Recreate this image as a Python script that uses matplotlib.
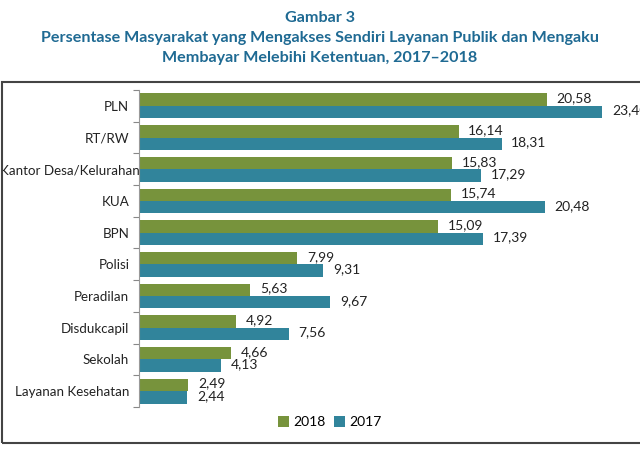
import matplotlib
matplotlib.use("Agg")
import matplotlib.pyplot as plt
from matplotlib.patches import Rectangle
from matplotlib.transforms import ScaledTranslation
import numpy as np

categories = ["PLN", "RT/RW", "Kantor Desa/Kelurahan", "KUA", "BPN", "Polisi",
              "Peradilan", "Disdukcapil", "Sekolah", "Layanan Kesehatan"]
v2018 = [20.58, 16.14, 15.83, 15.74, 15.09, 7.99, 5.63, 4.92, 4.66, 2.49]
v2017 = [23.40, 18.31, 17.29, 20.48, 17.39, 9.31, 9.67, 7.56, 4.13, 2.44]
series_names = ["2018", "2017"]

green = "#77933c"
teal = "#31849b"
title_color = "#1f6a93"

plt.rcParams['font.family'] = ['Lato', 'DejaVu Sans']

fig = plt.figure(figsize=(6.4, 4.53), dpi=100)
ax = fig.add_axes([139/640, 1-407/453, 1-139/640, (407-90)/453])

n = len(categories)
y = np.arange(n)
h = 0.39
ax.barh(y - h/2, v2018, height=h, color=green, label=series_names[0])
ax.barh(y + h/2, v2017, height=h, color=teal, label=series_names[1])

def fmt(v):
    return f"{v:.2f}".replace(".", ",")

for yi, a, b in zip(y, v2018, v2017):
    ax.annotate(fmt(a), (a, yi - h/2), xytext=(7, 1), textcoords="offset points",
                va="center", ha="left", fontsize=10, color="#222222", annotation_clip=False)
    ax.annotate(fmt(b), (b, yi + h/2), xytext=(7, 1), textcoords="offset points",
                va="center", ha="left", fontsize=10, color="#222222", annotation_clip=False)

ax.set_ylim(n - 0.5, -0.5)
ax.set_xlim(0, 25.3)
ax.set_yticks(y)
ax.set_yticklabels(categories, fontsize=9.6, color="#222222")
ax.tick_params(axis="y", which="major", length=0, pad=7)
ax.set_yticks(np.arange(-0.5, n, 1), minor=True)
ax.tick_params(axis="y", which="minor", length=4, color="#888888", width=0.8)
ax.set_xticks([])
for s in ["top", "right", "bottom"]:
    ax.spines[s].set_visible(False)
ax.spines["left"].set_color("#999999")
ax.spines["left"].set_linewidth(0.8)

# the long label overlaps the axis slightly in the reference
lbl = ax.get_yticklabels()[2]
lbl.set_transform(lbl.get_transform() + ScaledTranslation(10/100, 0, fig.dpi_scale_trans))

fig.legend(loc="center", bbox_to_anchor=(0.515, 1-422/453), ncol=2, frameon=False,
           fontsize=10, handlelength=0.8, handleheight=0.8, columnspacing=0.6,
           handletextpad=0.3)

fig.text(0.5, 1-18/453, "Gambar 3", ha="center", va="center", fontsize=11.6,
         fontweight="bold", color=title_color)
fig.text(0.5, 1-38/453, "Persentase Masyarakat yang Mengakses Sendiri Layanan Publik dan Mengaku",
         ha="center", va="center", fontsize=11.6, fontweight="bold", color=title_color)
fig.text(0.5, 1-58/453, "Membayar Melebihi Ketentuan, 2017\u20132018", ha="center", va="center",
         fontsize=11.6, fontweight="bold", color=title_color)

fig.patches.append(Rectangle((2/640, 1-443/453), 1.0, (443-82)/453, transform=fig.transFigure,
                             fill=False, edgecolor="#444444", linewidth=1.5))

fig.savefig("out.png", dpi=100)
